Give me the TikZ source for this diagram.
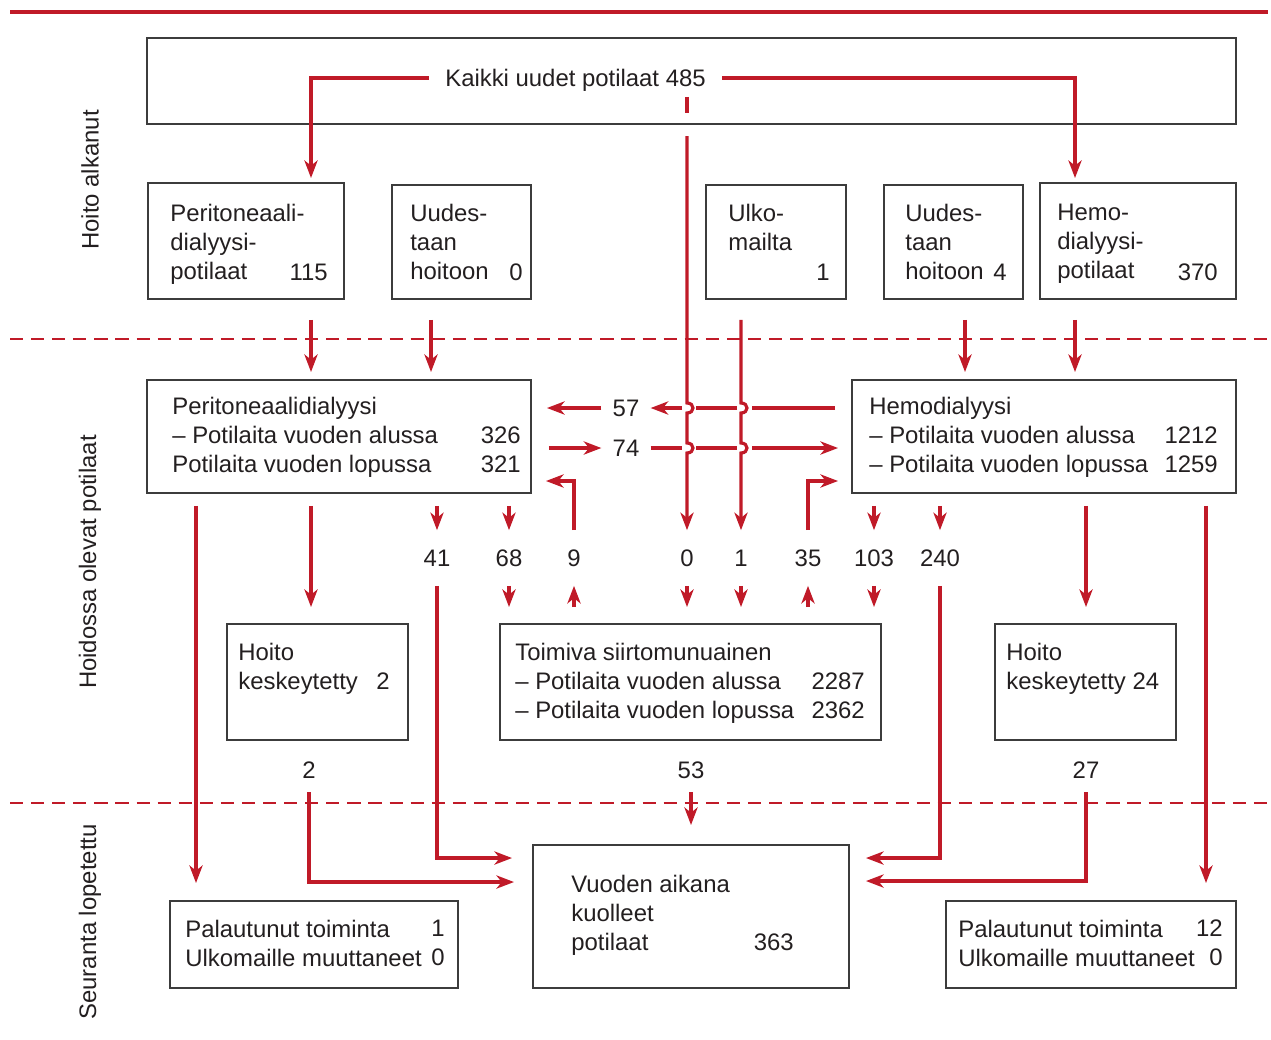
\documentclass[tikz,border=0pt]{standalone}
\usepackage{fontspec}
\setmainfont{Liberation Sans}
\usetikzlibrary{arrows.meta,calc}

\definecolor{rot}{RGB}{192,26,40}
\definecolor{schrift}{RGB}{35,31,32}
\definecolor{rahmen}{RGB}{60,60,60}

\begin{document}
\begin{tikzpicture}[x=0.02cm,y=-0.02cm,
    every node/.style={font=\fontsize{13.6}{16.4}\selectfont, text=schrift},
    kasten/.style={draw=rahmen, line width=0.75pt, inner sep=0pt, outer sep=0pt},
    txt/.style={anchor=north west, inner sep=0pt, align=left},
    wert/.style={anchor=base east, inner sep=0pt},
    zahl/.style={inner sep=0pt, minimum height=1.1cm},
    zahlb/.style={inner sep=0pt, minimum height=0.88cm},
    pfeil/.style={draw=rot, line width=1.8pt, -{Stealth[length=10pt,width=7.5pt,inset=3pt]}},
    linie/.style={draw=rot, line width=1.8pt},
    trenn/.style={draw=rot, line width=0.8pt, dash pattern=on 7.5pt off 4.5pt}]
    \useasboundingbox (0,0) rectangle (1271,1039);

    % Trennlinien
    \draw[rot, line width=1.8pt] (10,12) -- (1268,12);
    \draw[trenn] (10,339) -- (1271,339);
    \draw[trenn] (10,803) -- (1271,803);

    % Seitenbeschriftungen
    \node[rotate=90] (alkanut) at (90,180) {Hoito alkanut};
    \node[rotate=90] (hoidossa) at (90,562) {Hoidossa olevat potilaat};
    \node[rotate=90] (seuranta) at (90,922) {Seuranta lopetettu};

    % Kaesten
    \node[kasten, minimum width=21.78cm, minimum height=1.72cm] (top) at (691.5,81) {};
    \node[kasten, minimum width=3.92cm, minimum height=2.32cm] (pdn) at (246,241) {};
    \node[kasten, minimum width=2.78cm, minimum height=2.28cm] (uu1) at (461.5,242) {};
    \node[kasten, minimum width=2.80cm, minimum height=2.28cm] (ulk) at (776,242) {};
    \node[kasten, minimum width=2.78cm, minimum height=2.28cm] (uu2) at (953.5,242) {};
    \node[kasten, minimum width=3.92cm, minimum height=2.32cm] (hdn) at (1138,241) {};
    \node[kasten, minimum width=7.68cm, minimum height=2.26cm] (pd) at (339,436.5) {};
    \node[kasten, minimum width=7.68cm, minimum height=2.26cm] (hd) at (1044,436.5) {};
    \node[kasten, minimum width=3.62cm, minimum height=2.32cm] (hk1) at (317.5,682) {};
    \node[kasten, minimum width=7.62cm, minimum height=2.32cm] (tx) at (690.5,682) {};
    \node[kasten, minimum width=3.62cm, minimum height=2.32cm] (hk2) at (1085.5,682) {};
    \node[kasten, minimum width=5.76cm, minimum height=1.74cm] (pal1) at (314,944.5) {};
    \node[kasten, minimum width=6.32cm, minimum height=2.86cm] (dead) at (691,916.5) {};
    \node[kasten, minimum width=5.80cm, minimum height=1.74cm] (pal2) at (1091,944.5) {};

    % Texte
    \node[inner xsep=0.32cm, inner ysep=0pt, text depth=0pt] (kaikki) at (575.5,78) {Kaikki uudet potilaat 485};
    \node[txt] (pdnT) at (170,204) {Peritoneaali-\\dialyysi-\\potilaat};
    \node[wert] (pdnZ) at (328,280) {115};
    \node[txt] (uu1T) at (410,204) {Uudes-\\taan\\hoitoon};
    \node[wert] (uu1Z) at (523,280) {0};
    \node[txt] (ulkT) at (728,204) {Ulko-\\mailta};
    \node[wert] (ulkZ) at (830,280) {1};
    \node[txt] (uu2T) at (905,204) {Uudes-\\taan\\hoitoon};
    \node[wert] (uu2Z) at (1007,280) {4};
    \node[txt] (hdnT) at (1057,204) {Hemo-\\dialyysi-\\potilaat};
    \node[wert] (hdnZ) at (1218,280) {370};
    \node[txt] (pdT) at (172,397) {Peritoneaalidialyysi\\– Potilaita vuoden alussa\\Potilaita vuoden lopussa};
    \node[wert] (pdZa) at (521,443) {326};
    \node[wert] (pdZb) at (521,472) {321};
    \node[txt] (hdT) at (869,397) {Hemodialyysi\\– Potilaita vuoden alussa\\– Potilaita vuoden lopussa};
    \node[wert] (hdZa) at (1218,443) {1212};
    \node[wert] (hdZb) at (1218,472) {1259};
    \node[txt] (hk1T) at (238,643) {Hoito\\keskeytetty};
    \node[wert] (hk1Z) at (390,689) {2};
    \node[txt] (txT) at (515,643) {Toimiva siirtomunuainen\\– Potilaita vuoden alussa\\– Potilaita vuoden lopussa};
    \node[wert] (txZa) at (865,689) {2287};
    \node[wert] (txZb) at (865,718) {2362};
    \node[txt] (hk2T) at (1006,643) {Hoito\\keskeytetty 24};
    \node[txt] (deadT) at (571,875) {Vuoden aikana\\kuolleet\\potilaat};
    \node[wert] (deadZ) at (794,950) {363};
    \node[txt] (pal1T) at (185,920) {Palautunut toiminta\\Ulkomaille muuttaneet};
    \node[wert] (pal1Za) at (445,936) {1};
    \node[wert] (pal1Zb) at (445,965) {0};
    \node[txt] (pal2T) at (958,920) {Palautunut toiminta\\Ulkomaille muuttaneet};
    \node[wert] (pal2Za) at (1223,936) {12};
    \node[wert] (pal2Zb) at (1223,965) {0};

    % Zahlen an den Pfeilen
    \foreach \z/\x in {41/437,68/509,9/574,0/687,1/741,35/808,103/874,240/940}
        \node[zahl] (n\z) at (\x,558) {\z};
    \node[inner xsep=0.22cm, inner ysep=0pt] (n57) at (626,408) {57};
    \node[inner xsep=0.22cm, inner ysep=0pt] (n74) at (626,448) {74};
    \node[zahlb] (n2) at (309,770) {2};
    \node[zahlb] (n53) at (691,770) {53};
    \node[zahlb] (n27) at (1086,770) {27};

    % Spalten
    \foreach \s/\x in {sa/196, sb/311, sc/431, sd/965, se/1075, sf/1086, sg/1206}
        \coordinate (\s) at (\x,0);

    % Pfeile oben
    \draw[pfeil, shorten >=0.1cm] (kaikki.west) -| (pdn.north -| sb);
    \draw[pfeil, shorten >=0.1cm] (kaikki.east) -| (hdn.north -| se);
    \draw[linie] ($(top.south -| n0)+(0,-27)$) -- ($(top.south -| n0)+(0,-11)$);
    \foreach \o/\u/\s in {pdn/pd/sb, uu1/pd/sc, uu2/hd/sd, hdn/hd/se}
        \draw[pfeil, shorten <=0.42cm, shorten >=0.16cm] (\o.south -| \s) -- (\u.north -| \s);

    % senkrechte Linien mit Bruecken
    \draw[pfeil] ($(top.south -| n0)+(0,12)$) -- ($(n0 |- n57)+(0,-5)$)
        .. controls +(8,0) and +(8,0) .. ($(n0 |- n57)+(0,5)$) -- ($(n0 |- n74)+(0,-5)$)
        .. controls +(8,0) and +(8,0) .. ($(n0 |- n74)+(0,5)$) -- (n0.north);
    \draw[pfeil, shorten <=0.42cm] (ulk.south -| n1) -- ($(n1 |- n57)+(0,-5)$)
        .. controls +(8,0) and +(8,0) .. ($(n1 |- n57)+(0,5)$) -- ($(n1 |- n74)+(0,-5)$)
        .. controls +(8,0) and +(8,0) .. ($(n1 |- n74)+(0,5)$) -- (n1.north);

    % Wechsel zwischen den Dialysen
    \draw[linie, shorten <=0.34cm] (hd.west |- n57) -- ($(n1 |- n57)+(11,0)$);
    \draw[linie] ($(n1 |- n57)+(-4,0)$) -- ($(n0 |- n57)+(9,0)$);
    \draw[pfeil] ($(n0 |- n57)+(-5,0)$) -- (n57.east);
    \draw[pfeil, shorten >=0.32cm] (n57.west) -- (pd.east |- n57);
    \draw[pfeil, shorten <=0.36cm] (pd.east |- n74) -- (n74.west);
    \draw[linie] (n74.east) -- ($(n0 |- n74)+(-5,0)$);
    \draw[linie] ($(n0 |- n74)+(9,0)$) -- ($(n1 |- n74)+(-4,0)$);
    \draw[pfeil, shorten >=0.28cm] ($(n1 |- n74)+(11,0)$) -- (hd.west |- n74);

    % Pfeile in der Mitte
    \foreach \b/\z in {pd/41, pd/68, hd/103, hd/240}
        \draw[pfeil, shorten <=0.26cm] (\b.south -| n\z) -- (n\z.north);
    \foreach \z in {68,0,1,103}
        \draw[pfeil, shorten >=0.34cm] (n\z.south) -- (tx.north -| n\z);
    \foreach \z in {9,35}
        \draw[pfeil, shorten <=0.34cm] (tx.north -| n\z) -- (n\z.south);
    \draw[pfeil] (n9.north) |- ($(pd.south east)+(15,-12)$);
    \draw[pfeil] (n35.north) |- ($(hd.south west)+(-14,-12)$);
    \draw[pfeil, shorten <=0.26cm, shorten >=0.34cm] (pd.south -| sb) -- (hk1.north -| sb);
    \draw[pfeil, shorten <=0.26cm, shorten >=0.34cm] (hd.south -| sf) -- (hk2.north -| sf);

    % Pfeile unten
    \draw[pfeil, shorten <=0.26cm, shorten >=0.36cm] (pd.south -| sa) -- (pal1.north -| sa);
    \draw[pfeil, shorten <=0.26cm, shorten >=0.36cm] (hd.south -| sg) -- (pal2.north -| sg);
    \draw[pfeil] (n41.south) |- ($(dead.north west)+(-21,13)$);
    \draw[pfeil] (n240.south) |- ($(dead.north east)+(17,13)$);
    \draw[pfeil] (n2.south) |- ($(dead.north west)+(-19,37)$);
    \draw[pfeil] (n27.south) |- ($(dead.north east)+(17,36)$);
    \draw[pfeil, shorten >=0.4cm] (n53.south) -- (dead.north -| n53);
\end{tikzpicture}
\end{document}
